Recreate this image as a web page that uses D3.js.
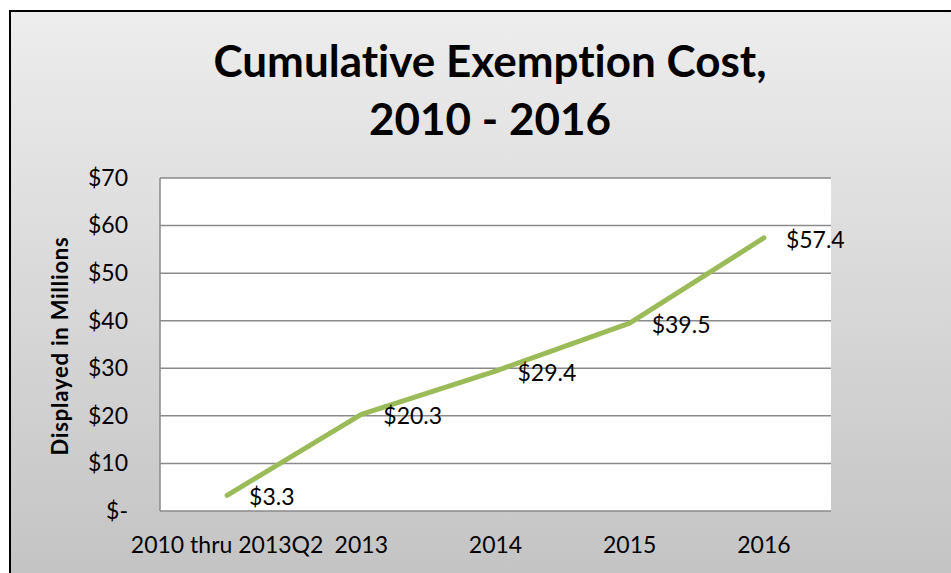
<!DOCTYPE html>
<html lang="en">
<head>
    <meta charset="UTF-8">
    <title>Cumulative Exemption Cost, 2010 - 2016</title>
    <script src="https://d3js.org/d3.v7.min.js"></script>
    <style>
        body { margin: 0; background: #fff; }
        svg { display: block; font-family: Lato, "Open Sans", sans-serif; font-variant-ligatures: none; }
    </style>
</head>
<body>
    <svg id="chart" width="951" height="573"></svg>
    <script>
        // Chart data
        const categories = ["2010 thru 2013Q2", "2013", "2014", "2015", "2016"];
        const costs = [3.3, 20.3, 29.4, 39.5, 57.4];
        const yTicks = [0, 10, 20, 30, 40, 50, 60, 70];
        const titleLines = ["Cumulative Exemption Cost,", "2010 - 2016"];
        const yTitle = "Displayed in Millions";

        const svg = d3.select("#chart");
        const plot = { left: 160, right: 831, top: 178, bottom: 511 };

        // Background gradient
        const grad = svg.append("defs").append("linearGradient")
            .attr("id", "bg").attr("x1", 0).attr("y1", 0).attr("x2", 0).attr("y2", 1);
        grad.append("stop").attr("offset", "0%").attr("stop-color", "#ededed");
        grad.append("stop").attr("offset", "100%").attr("stop-color", "#c2c2c2");

        svg.append("rect")
            .attr("x", 10).attr("y", 11)
            .attr("width", 960).attr("height", 590)
            .attr("fill", "url(#bg)")
            .attr("stroke", "#000").attr("stroke-width", 2);

        // Plot area
        svg.append("rect")
            .attr("x", plot.left).attr("y", plot.top)
            .attr("width", plot.right - plot.left)
            .attr("height", plot.bottom - plot.top)
            .attr("fill", "#fff");

        const x = d3.scaleBand().domain(categories).range([plot.left, plot.right]);
        const y = d3.scaleLinear().domain([0, 70]).range([plot.bottom, plot.top]);

        // Gridlines
        svg.append("g").selectAll("line")
            .data(yTicks)
            .enter().append("line")
            .attr("x1", plot.left).attr("x2", plot.right)
            .attr("y1", d => y(d)).attr("y2", d => y(d))
            .attr("stroke", "#8a8a8a").attr("stroke-width", 1.5);

        // Left axis line
        svg.append("line")
            .attr("x1", plot.left).attr("x2", plot.left)
            .attr("y1", plot.top).attr("y2", plot.bottom)
            .attr("stroke", "#8a8a8a").attr("stroke-width", 1.5);

        // Y axis labels
        const yAxis = d3.axisLeft(y)
            .tickValues(yTicks)
            .tickSize(0)
            .tickPadding(32)
            .tickFormat(d => d === 0 ? "$-" : "$" + d);
        const gy = svg.append("g").attr("transform", `translate(${plot.left},0)`).call(yAxis);
        gy.select(".domain").remove();
        gy.selectAll("text")
            .attr("font-size", 23).attr("fill", "#000")
            .attr("font-family", "Lato, sans-serif");

        // X axis labels
        const xAxis = d3.axisBottom(x).tickSize(0).tickPadding(26);
        const gx = svg.append("g").attr("transform", `translate(0,${plot.bottom})`).call(xAxis);
        gx.select(".domain").remove();
        gx.selectAll("text")
            .attr("font-size", 23).attr("fill", "#000")
            .attr("font-family", "Lato, sans-serif");

        // Line
        const line = d3.line()
            .x((d, i) => x(categories[i]) + x.bandwidth() / 2)
            .y(d => y(d));
        svg.append("path")
            .datum(costs)
            .attr("d", line)
            .attr("fill", "none")
            .attr("stroke", "#9bbb59")
            .attr("stroke-width", 5)
            .attr("stroke-linecap", "round")
            .attr("stroke-linejoin", "round");

        // Data labels
        svg.append("g").selectAll("text")
            .data(costs)
            .enter().append("text")
            .attr("x", (d, i) => x(categories[i]) + x.bandwidth() / 2 + 22)
            .attr("y", d => y(d) + 1)
            .attr("dominant-baseline", "central")
            .attr("font-size", 23)
            .text(d => "$" + d.toFixed(1));

        // Title
        svg.append("g").selectAll("text")
            .data(titleLines)
            .enter().append("text")
            .attr("x", 490)
            .attr("y", (d, i) => 77 + i * 58)
            .attr("text-anchor", "middle")
            .attr("font-size", 44)
            .attr("font-weight", "bold")
            .text(d => d);

        // Y axis title
        svg.append("text")
            .attr("transform", `translate(68,${(232 + 460) / 2}) rotate(-90)`)
            .attr("text-anchor", "middle")
            .attr("font-size", 22)
            .attr("letter-spacing", 0.8)
            .attr("font-weight", "bold")
            .text(yTitle);
    </script>
</body>
</html>
